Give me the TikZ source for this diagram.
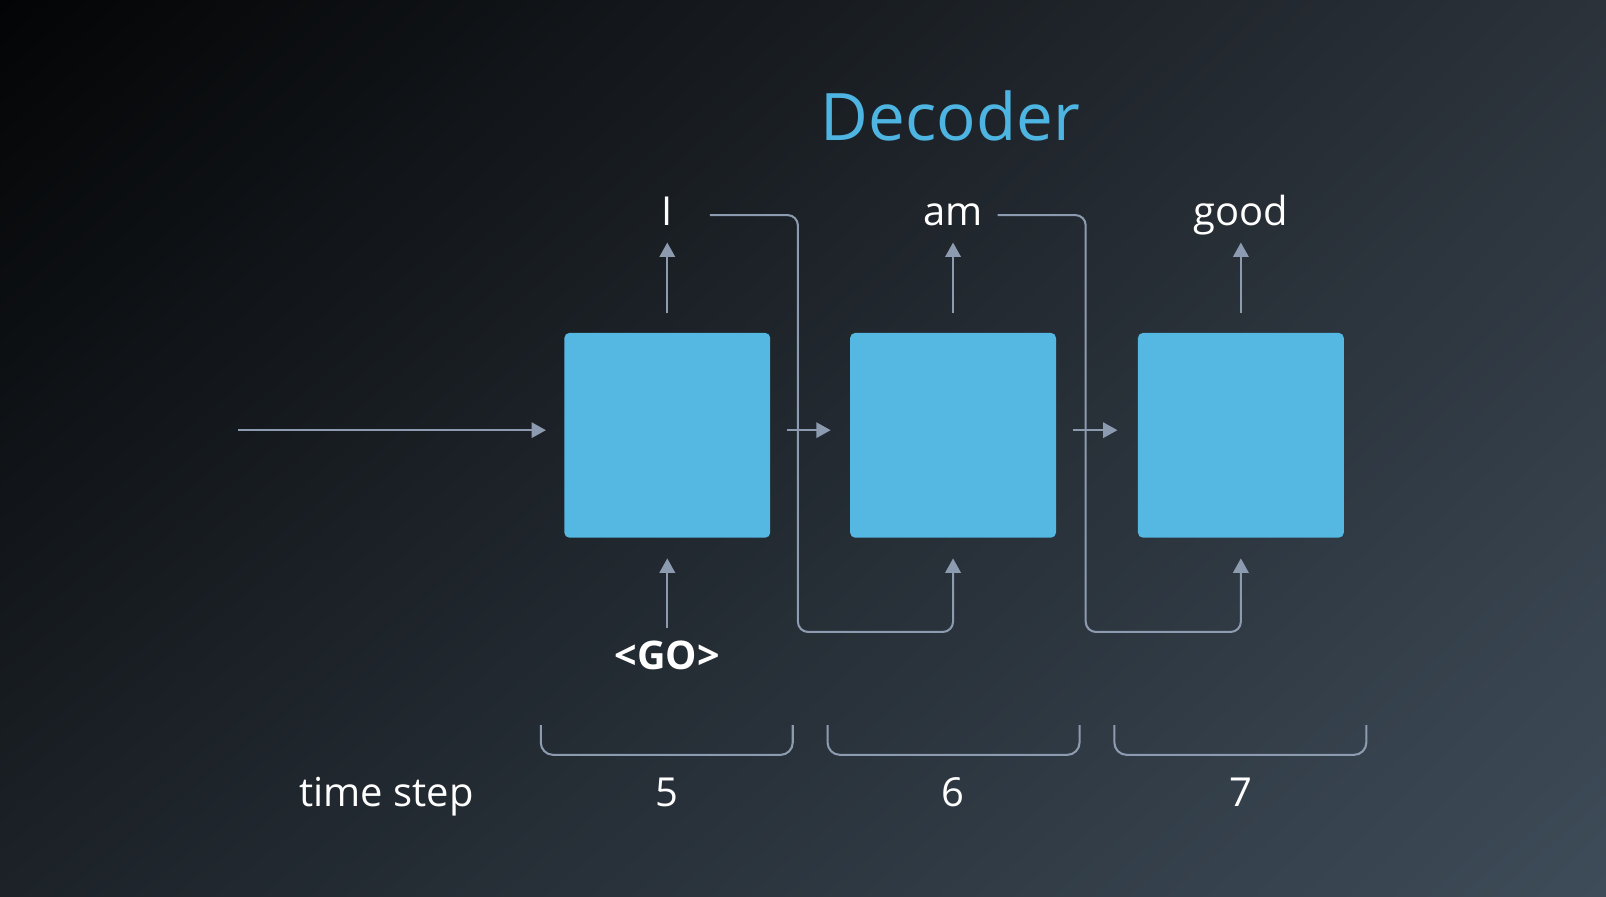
\documentclass[tikz,border=0pt]{standalone}
\usepackage{fontspec}
\setmainfont{Open Sans}
\usetikzlibrary{arrows.meta,shadings}
\definecolor{cellblue}{HTML}{55B8E3}
\definecolor{titleblue}{HTML}{4EB4E2}
\definecolor{linecol}{HTML}{8D9BB0}
\definecolor{bgtl}{HTML}{030405}
\definecolor{bgtr}{HTML}{2B323A}
\definecolor{bgbl}{HTML}{1C2228}
\definecolor{bgbr}{HTML}{3E4C59}
\tikzset{
  cell/.style={fill=cellblue, draw=none, rounded corners=5pt, minimum width=201pt, minimum height=200pt, inner sep=0pt},
  lbl/.style={text=white, inner sep=0pt, anchor=base, font=\fontsize{39}{41}\selectfont},
  boldlbl/.style={text=white, inner sep=0pt, anchor=base, font=\fontsize{38.5}{41}\selectfont\bfseries},
  conn/.style={draw=linecol, line width=2pt},
  arr/.style={conn, -{Triangle[length=14pt,width=15pt]}},
}
\begin{document}
\begin{tikzpicture}[x=1pt,y=-1pt]
\useasboundingbox (0,0) rectangle (1568,875);
\shade[upper left=bgtl, upper right=bgtr, lower left=bgbl, lower right=bgbr] (0,0) rectangle (1568,875);

% title
\node[anchor=base, inner sep=0pt, text=titleblue, font=\fontsize{64}{68}\selectfont] (title) at (928,137) {Decoder};

% cells
\node[cell] (b1) at (651.5,425) {};
\node[cell] (b2) at (930.5,425) {};
\node[cell] (b3) at (1211.5,425) {};

% outputs
\node[lbl] (o1) at (651.5,220) {I};
\node[lbl] (o2) at (930.5,220) {am};
\node[lbl] (o3) at (1211.5,220) {good};

\draw[arr] ([yshift=19pt]b1.north) -- ([yshift=88pt]b1.north);
\draw[arr] ([yshift=19pt]b2.north) -- ([yshift=88pt]b2.north);
\draw[arr] ([yshift=19pt]b3.north) -- ([yshift=88pt]b3.north);

% input GO
\node[boldlbl] (go) at (651.5,654) {<GO>};
\draw[arr] ([yshift=-88pt]b1.south) -- ([yshift=-20pt]b1.south);

% feedback connections
\coordinate (f1) at (693,210);
\coordinate (f2) at (974,210);
\draw[arr, rounded corners=10pt] (f1) -- (779,210) -- (779,617) -- (930.5,617) -- ([yshift=-20pt]b2.south);
\draw[arr, rounded corners=10pt] (f2) -- (1060,210) -- (1060,617) -- (1211.5,617) -- ([yshift=-20pt]b3.south);

% horizontal state arrows
\coordinate (in) at (232,420);
\draw[arr] (in) -- (533,420);
\draw[arr] (768,420) -- (811,420);
\draw[arr] (1048,420) -- (1091,420);

% brackets
\draw[conn, rounded corners=12pt] (528,708) -- (528,737) -- (774,737) -- (774,708);
\draw[conn, rounded corners=12pt] (808,708) -- (808,737) -- (1054,737) -- (1054,708);
\draw[conn, rounded corners=12pt] (1088,708) -- (1088,737) -- (1334,737) -- (1334,708);

% time step labels
\node[lbl] (ts) at (377.5,787) {time step};
\node[lbl] (t5) at (651.5,787) {5};
\node[lbl] (t6) at (930.5,787) {6};
\node[lbl] (t7) at (1211.5,787) {7};
\end{tikzpicture}
\end{document}
